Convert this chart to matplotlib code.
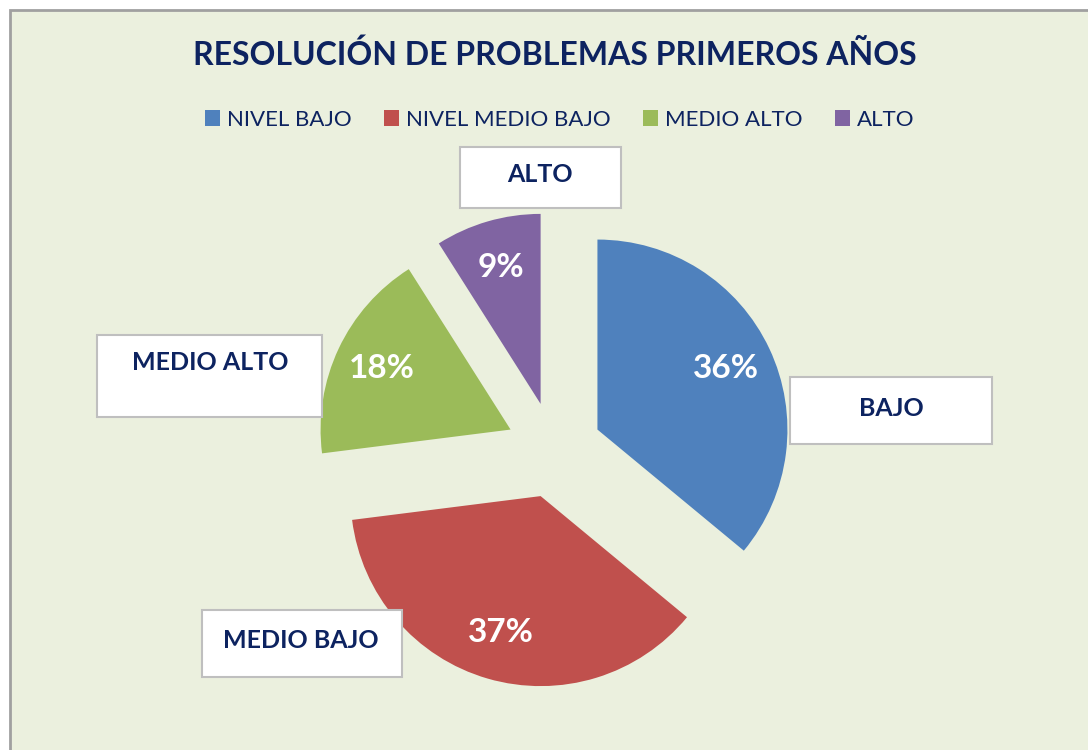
import matplotlib
matplotlib.use('Agg')
import matplotlib.pyplot as plt
from matplotlib.patches import Rectangle, Patch

# data
categories = ['NIVEL BAJO', 'NIVEL MEDIO BAJO', 'MEDIO ALTO', 'ALTO']
box_labels = ['BAJO', 'MEDIO BAJO', 'MEDIO ALTO', 'ALTO']
values = [36, 37, 18, 9]

colors = ['#4F81BD', '#C0504D', '#9BBB59', '#8064A2']
navy = '#0D2360'
bg = '#EBF0DE'
font = 'Lato'

W, H = 1088, 750
fig = plt.figure(figsize=(W / 100, H / 100), dpi=100)
fig.patch.set_facecolor('white')
ax = fig.add_axes([0, 0, 1, 1])

# chart area with gray border (right/bottom run off the picture)
ax.add_patch(Rectangle((10, 10), W + 20, H + 20, facecolor=bg,
                       edgecolor='#A0A0A0', linewidth=2, zorder=0))

# pie, exploded; y axis is inverted so go counterclockwise in data space
wedges, texts, autotexts = ax.pie(
    values, colors=colors, radius=190, center=(554, 450),
    startangle=-90, counterclock=True,
    explode=[48] * len(values),
    autopct='%1.0f%%', pctdistance=0.75,
    textprops=dict(color='white', fontsize=24, fontweight='bold',
                   family=font))
for w in wedges:
    w.set_zorder(2)
for t in autotexts:
    t.set_zorder(3)

ax.set_xlim(0, W)
ax.set_ylim(H, 0)
ax.set_aspect('auto')
ax.axis('off')

# callout boxes: (x0, y0, w, h, text x, text y)
box_layout = {
    'BAJO': (790, 377, 202, 67, 891, 408),
    'MEDIO BAJO': (202, 610, 200, 67, 301, 640),
    'MEDIO ALTO': (97, 335, 225, 82, 210, 363),
    'ALTO': (460, 147, 161, 61, 540, 175),
}
for name in box_labels:
    x0, y0, bw, bh, tx, ty = box_layout[name]
    ax.add_patch(Rectangle((x0, y0), bw, bh, facecolor='white',
                           edgecolor='#BFBFBF', linewidth=1.5, zorder=4))
    ax.text(tx, ty, name, ha='center', va='center', fontsize=18,
            fontweight='bold', color=navy, family=font, zorder=5)

fig.text(555 / W, 1 - 55 / H, 'RESOLUCIÓN DE PROBLEMAS PRIMEROS AÑOS',
         ha='center', va='center', fontsize=23, fontweight='bold',
         color=navy, family=font)

handles = [Patch(facecolor=c, edgecolor='none') for c in colors]
leg = fig.legend(handles, categories, loc='center',
                 bbox_to_anchor=(560 / W, 1 - 120 / H), ncol=4,
                 frameon=False, handlelength=0.65, handleheight=0.75,
                 handletextpad=0.35, columnspacing=1.45,
                 prop=dict(family=font, size=16))
for t in leg.get_texts():
    t.set_color(navy)

plt.savefig('out.png', dpi=100)
